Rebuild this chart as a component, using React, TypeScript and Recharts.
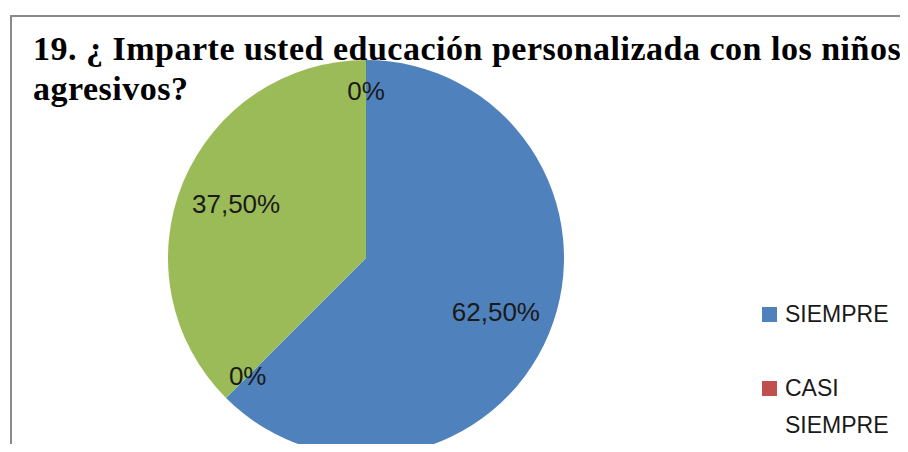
import React from 'react';
import { PieChart, Pie, Cell, Legend } from 'recharts';

// answer categories and percentages (question 19)
const categories = ['SIEMPRE', 'CASI SIEMPRE', 'A VECES', 'NUNCA'];
const values = [62.5, 0, 37.5, 0];
const colors = ['#4F81BD', '#C0504D', '#9BBB59', '#8064A2'];
// the reference frame only shows the first two legend entries
const legendShown = 2;

const titleLines = ['19. ¿ Imparte usted educación personalizada con los niños', 'agresivos?'];

const data = categories.map((name, i) => ({ name, value: values[i] }));

const RADIAN = Math.PI / 180;

const fmt = (v: number) => (v === 0 ? '0%' : v.toFixed(2).replace('.', ',') + '%');

const renderLabel = (props: any) => {
  const { cx, cy, midAngle, outerRadius, value } = props;
  const r = outerRadius * (value === 0 ? 0.845 : 0.71);
  const x = cx + r * Math.cos(-midAngle * RADIAN);
  const y = cy + r * Math.sin(-midAngle * RADIAN);
  return (
    <text
      x={x}
      y={y}
      textAnchor="middle"
      dominantBaseline="central"
      fill="#1a1a1a"
      fontFamily="'Liberation Sans', Arial, sans-serif"
      fontSize={26}
    >
      {fmt(value)}
    </text>
  );
};

const renderLegend = () => (
  <div style={{ fontFamily: "'Liberation Sans', Arial, sans-serif", fontSize: 23, color: '#1a1a1a' }}>
    {categories.slice(0, legendShown).map((c, i) => (
      <div key={c} style={{ display: 'flex', alignItems: 'flex-start', marginBottom: 37, lineHeight: '37px' }}>
        <div style={{ width: 15, height: 15, background: colors[i], marginTop: 11, marginRight: 8, flexShrink: 0 }} />
        <div style={{ width: 115 }}>{c}</div>
      </div>
    ))}
  </div>
);

const titleStyle: React.CSSProperties = {
  position: 'absolute',
  left: 33,
  whiteSpace: 'nowrap',
  fontFamily: "'Liberation Serif', 'Times New Roman', serif",
  fontWeight: 'bold',
  fontSize: 34,
  letterSpacing: 0.5,
  lineHeight: '40px',
  color: '#000',
};

const App = () => {
  return (
    <div style={{ position: 'relative', width: 908, height: 452, margin: -8, overflow: 'hidden', background: '#fff' }}>
      <div
        style={{
          position: 'absolute',
          left: 10,
          top: 15,
          width: 900,
          height: 440,
          borderTop: '2px solid #8a8a8a',
          borderLeft: '2px solid #8a8a8a',
        }}
      />
      <PieChart width={908} height={452} margin={{ top: 0, right: 0, bottom: 0, left: 0 }}>
        <Pie
          data={data}
          dataKey="value"
          nameKey="name"
          cx={366}
          cy={258}
          outerRadius={198}
          startAngle={90}
          endAngle={-270}
          stroke="none"
          labelLine={false}
          label={renderLabel}
          isAnimationActive={false}
        >
          {data.map((d, i) => (
            <Cell key={d.name} fill={colors[i]} />
          ))}
        </Pie>
        <Legend
          content={renderLegend}
          wrapperStyle={{ position: 'absolute', left: 762, top: 296, width: 140 }}
        />
      </PieChart>
      {titleLines.map((t, i) => (
        <div key={i} style={{ ...titleStyle, top: 29 + i * 40 }}>
          {t}
        </div>
      ))}
    </div>
  );
};

export default App;
